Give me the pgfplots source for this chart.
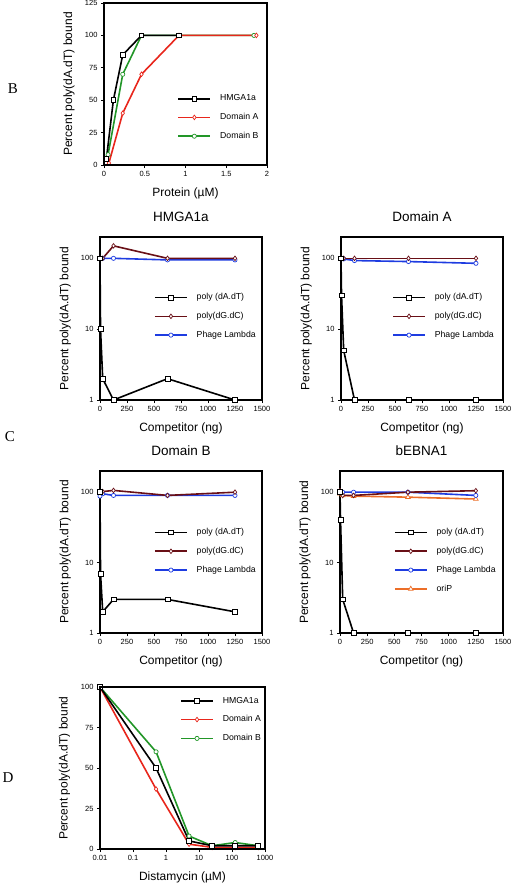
\documentclass[border=0pt]{standalone}
\usepackage{pgfplots}
\pgfplotsset{compat=1.18}
\usepackage{fontspec}
\setmainfont{Liberation Sans}
\newfontfamily\seriffont{Liberation Serif}
\definecolor{cred}{RGB}{232,38,28}
\definecolor{cgreen}{RGB}{34,150,40}
\definecolor{cbrown}{RGB}{105,15,22}
\definecolor{cblue}{RGB}{30,60,225}
\definecolor{corange}{RGB}{236,110,40}
\tikzset{
 sq/.style={black, line width=1.6pt, mark=square*, mark size=2.4pt, mark options={fill=white, line width=0.8pt}},
 dmA/.style={cred, line width=1.6pt, mark=diamond*, mark size=2.3pt, mark options={fill=white, line width=0.7pt}},
 cB/.style={cgreen, line width=1.6pt, mark=*, mark size=2.1pt, mark options={fill=white, line width=0.7pt}},
 dGC/.style={cbrown, line width=1.6pt, mark=diamond*, mark size=2.3pt, mark options={fill=white, line width=0.7pt}},
 lam/.style={cblue, line width=1.6pt, mark=*, mark size=2.1pt, mark options={fill=white, line width=0.7pt}},
 ori/.style={corange, line width=1.6pt, mark=triangle*, mark size=2.7pt, mark options={fill=white, line width=0.7pt}},
}
\pgfplotsset{
 panel/.style={
  scale only axis,
  axis line style={line width=2pt},
  tick align=outside, major tick length=3pt,
  tick style={line width=0.8pt,black},
  xtick pos=bottom, ytick pos=left,
  ticklabel style={font=\fontsize{7.5}{8}\selectfont},
  label style={font=\fontsize{12}{14}\selectfont},
  title style={font=\fontsize{13.5}{15}\selectfont, at={(axis description cs:0.5,1)}, yshift=14pt, anchor=center},
  ylabel style={at={(axis description cs:-0.215,0.5)}, anchor=center},
  xlabel style={at={(axis description cs:0.5,0)}, yshift=-28pt, anchor=center},
  ylabel={Percent poly(dA.dT) bound},
  clip=false,
  /pgf/number format/assume math mode=true,
  /pgf/number format/1000 sep={},
  legend cell align=left,
  legend style={draw=none, fill=none, font=\fontsize{8.7}{9}\selectfont, inner sep=0pt, row sep=9pt, column sep=8pt, nodes={inner sep=1pt}},
  legend image code/.code={\draw[mark repeat=2,mark phase=2,##1] plot coordinates {(0pt,0pt) (16pt,0pt) (32pt,0pt)};},
 },
 compx/.style={ymin=1, ymax=200, ytick={1,10,100}, yticklabels={1,10,100}, yminorticks=false,
  xmin=0, xmax=1500, xtick={0,250,...,1500}, xlabel={Competitor (ng)}},
}
\begin{document}
\begin{tikzpicture}[x=1pt,y=1pt]
\useasboundingbox (0,0) rectangle (512,-884);
\node[font=\seriffont\fontsize{15}{16}\selectfont] at (13,-89) {B};
\node[font=\seriffont\fontsize{15}{16}\selectfont] at (10,-437) {C};
\node[font=\seriffont\fontsize{15}{16}\selectfont] at (8,-778) {D};

% Panel B
\begin{axis}[panel, name=bax, at={(104pt,-165pt)}, anchor=south west, width=163pt, height=162pt,
  xmin=0, xmax=2, ymin=0, ymax=125, xtick={0,0.5,1,1.5,2}, xticklabels={0,0.5,1,1.5,2},
  ytick={0,25,50,75,100,125}, xlabel={Protein (µM)},
  legend style={at={(axis description cs:0.45,0.44)}, anchor=north west}]
\addlegendimage{sq}\addlegendentry{HMGA1a}
\addlegendimage{dmA}\addlegendentry{Domain A}
\addlegendimage{cB}\addlegendentry{Domain B}
\addplot[cB, forget plot] coordinates {(0.05,8) (0.23,70) (0.46,100) (0.92,100) (1.84,100)};
\addplot[dmA, forget plot] coordinates {(0.06,1.5) (0.23,40) (0.46,70) (0.92,100) (1.87,100)};
\addplot[sq, forget plot] coordinates {(0.03,5) (0.115,50) (0.23,85) (0.46,100) (0.92,100)};
\end{axis}
\draw[line width=2pt, black] (bax.south west) rectangle (bax.north east);

% HMGA1a
\begin{axis}[panel, ymode=log, compx, at={(100pt,-400pt)}, anchor=south west, width=162pt, height=163pt, title={HMGA1a},
  legend style={at={(axis description cs:0.333,0.66)}, anchor=north west}]
\addlegendimage{sq}\addlegendentry{poly (dA.dT)}
\addlegendimage{dGC}\addlegendentry{poly(dG.dC)}
\addlegendimage{lam}\addlegendentry{Phage Lambda}
\addplot[lam, forget plot] coordinates {(0,100) (25,100) (125,100) (625,95) (1250,95)};
\addplot[dGC, forget plot] coordinates {(0,100) (25,100) (125,150) (625,100) (1250,100)};
\addplot[sq, forget plot] coordinates {(0,100) (5,10) (25,2) (125,1) (625,2) (1250,1)};
\end{axis}

% Domain A
\begin{axis}[panel, ymode=log, compx, at={(341pt,-400pt)}, anchor=south west, width=162pt, height=163pt, title={Domain A},
  legend style={at={(axis description cs:0.315,0.66)}, anchor=north west}]
\addlegendimage{sq}\addlegendentry{poly (dA.dT)}
\addlegendimage{dGC}\addlegendentry{poly(dG.dC)}
\addlegendimage{lam}\addlegendentry{Phage Lambda}
\addplot[lam, forget plot] coordinates {(0,100) (25,98) (125,93) (625,90) (1250,85)};
\addplot[dGC, forget plot] coordinates {(0,100) (25,100) (125,100) (625,100) (1250,100)};
\addplot[sq, forget plot] coordinates {(0,100) (5,30) (25,5) (125,1) (625,1) (1250,1)};
\end{axis}

% Domain B
\begin{axis}[panel, ymode=log, compx, at={(100pt,-633pt)}, anchor=south west, width=162pt, height=162pt, title={Domain B},
  legend style={at={(axis description cs:0.333,0.652)}, anchor=north west}]
\addlegendimage{sq}\addlegendentry{poly (dA.dT)}
\addlegendimage{dGC}\addlegendentry{poly(dG.dC)}
\addlegendimage{lam}\addlegendentry{Phage Lambda}
\addplot[lam, forget plot] coordinates {(0,88) (25,95) (125,90) (625,90) (1250,90)};
\addplot[dGC, forget plot] coordinates {(0,100) (25,102) (125,106) (625,90) (1250,100)};
\addplot[sq, forget plot] coordinates {(0,100) (5,7) (25,2) (125,3) (625,3) (1250,2)};
\end{axis}

% bEBNA1
\begin{axis}[panel, ymode=log, compx, at={(340pt,-633pt)}, anchor=south west, width=163pt, height=162pt, title={bEBNA1},
  legend style={at={(axis description cs:0.33,0.652)}, anchor=north west}]
\addlegendimage{sq}\addlegendentry{poly (dA.dT)}
\addlegendimage{dGC}\addlegendentry{poly(dG.dC)}
\addlegendimage{lam}\addlegendentry{Phage Lambda}
\addlegendimage{ori}\addlegendentry{oriP}
\addplot[ori, forget plot] coordinates {(0,95) (25,90) (125,88) (625,85) (1250,80)};
\addplot[lam, forget plot] coordinates {(0,100) (25,100) (125,100) (625,100) (1250,90)};
\addplot[dGC, forget plot] coordinates {(0,105) (25,90) (125,90) (625,100) (1250,105)};
\addplot[sq, forget plot] coordinates {(0,100) (5,40) (25,3) (125,1) (625,1) (1250,1)};
\end{axis}

% Panel D
\begin{axis}[panel, name=dax, xmode=log, at={(100pt,-849pt)}, anchor=south west, width=165pt, height=162pt,
  xmin=0.01, xmax=1000, xtick={0.01,0.1,1,10,100,1000}, xticklabels={0.01,0.1,1,10,100,1000},
  xminorticks=false, ymin=0, ymax=100, ytick={0,25,50,75,100}, xlabel={Distamycin (µM)},
  legend style={at={(axis description cs:0.485,0.945)}, anchor=north west}]
\addlegendimage{sq}\addlegendentry{HMGA1a}
\addlegendimage{dmA}\addlegendentry{Domain A}
\addlegendimage{cB}\addlegendentry{Domain B}
\addplot[cB, forget plot] coordinates {(0.01,100) (0.5,60) (5,8) (25,2) (125,4) (625,2)};
\addplot[dmA, forget plot] coordinates {(0.01,100) (0.5,37) (5,3) (25,1) (125,1) (625,1)};
\addplot[sq, forget plot] coordinates {(0.01,100) (0.5,50) (5,5) (25,2) (125,2) (625,2)};
\end{axis}
\draw[line width=2pt, black] (dax.south west) rectangle (dax.north east);
\end{tikzpicture}
\end{document}
